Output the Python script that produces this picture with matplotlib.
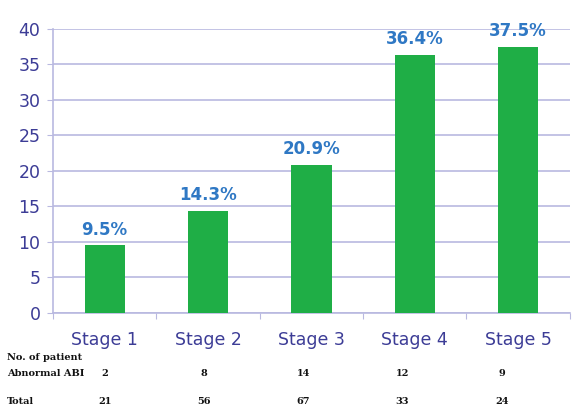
import matplotlib.pyplot as plt
import matplotlib.transforms as mtransforms
import numpy as np

stages = ["Stage 1", "Stage 2", "Stage 3", "Stage 4", "Stage 5"]
percent = [9.5, 14.3, 20.9, 36.4, 37.5]
abnormal_abi = [2, 8, 14, 12, 9]
totals = [21, 56, 67, 33, 24]

grid_col = "#b9b9e0"
tick_col = "#3c3c96"
bar_col = "#1fae46"
label_col = "#2f78c4"

fig = plt.figure(figsize=(5.73, 4.08), dpi=100)
ax = fig.add_axes([0.0925, 0.233, 0.902, 0.696])

x = np.arange(len(stages))
ax.bar(x, percent, width=0.39, color=bar_col, zorder=3)
for xi, p in zip(x, percent):
    ax.annotate(f"{p}%", (xi, p), xytext=(0, 5), textcoords="offset points",
                ha="center", va="bottom", color=label_col, fontsize=12,
                fontweight="bold")

ax.set_xlim(-0.5, len(stages) - 0.5)
ax.set_ylim(0, 40)
ax.set_yticks(range(0, 41, 5))
ax.yaxis.grid(True, color=grid_col, linewidth=1.2, zorder=0)
ax.set_axisbelow(True)

# category labels between boundary ticks
ax.set_xticks(np.arange(-0.5, len(stages), 1.0))
ax.set_xticklabels([])
ax.set_xticks(x, minor=True)
ax.set_xticklabels(stages, minor=True)
ax.tick_params(axis="x", which="minor", length=0, pad=13, labelsize=12.5,
               labelcolor=tick_col)
ax.tick_params(axis="x", which="major", length=4, color=grid_col)
ax.tick_params(axis="y", length=4, color=grid_col, labelsize=12.5,
               labelcolor=tick_col, pad=5)

for s in ["top", "right"]:
    ax.spines[s].set_visible(False)
for s in ["left", "bottom"]:
    ax.spines[s].set_color(grid_col)
    ax.spines[s].set_linewidth(1.2)

# table of counts under the axis
trans = mtransforms.blended_transform_factory(ax.transData, fig.transFigure)
tkw = dict(family="DejaVu Serif", fontweight="bold", fontsize=7, color="#111111")
fig.text(0.012, 1 - 357 / 408, "No. of patient", va="center", **tkw)
fig.text(0.012, 1 - 373 / 408, "Abnormal ABI", va="center", **tkw)
fig.text(0.012, 1 - 401 / 408, "Total", va="center", **tkw)
for xi, a, t in zip(x, abnormal_abi, totals):
    ax.text(xi - 0.04 * xi, 1 - 373 / 408, str(a), transform=trans,
            ha="center", va="center", **tkw)
    ax.text(xi - 0.04 * xi, 1 - 401 / 408, str(t), transform=trans,
            ha="center", va="center", **tkw)

fig.savefig("out.png", dpi=100)
